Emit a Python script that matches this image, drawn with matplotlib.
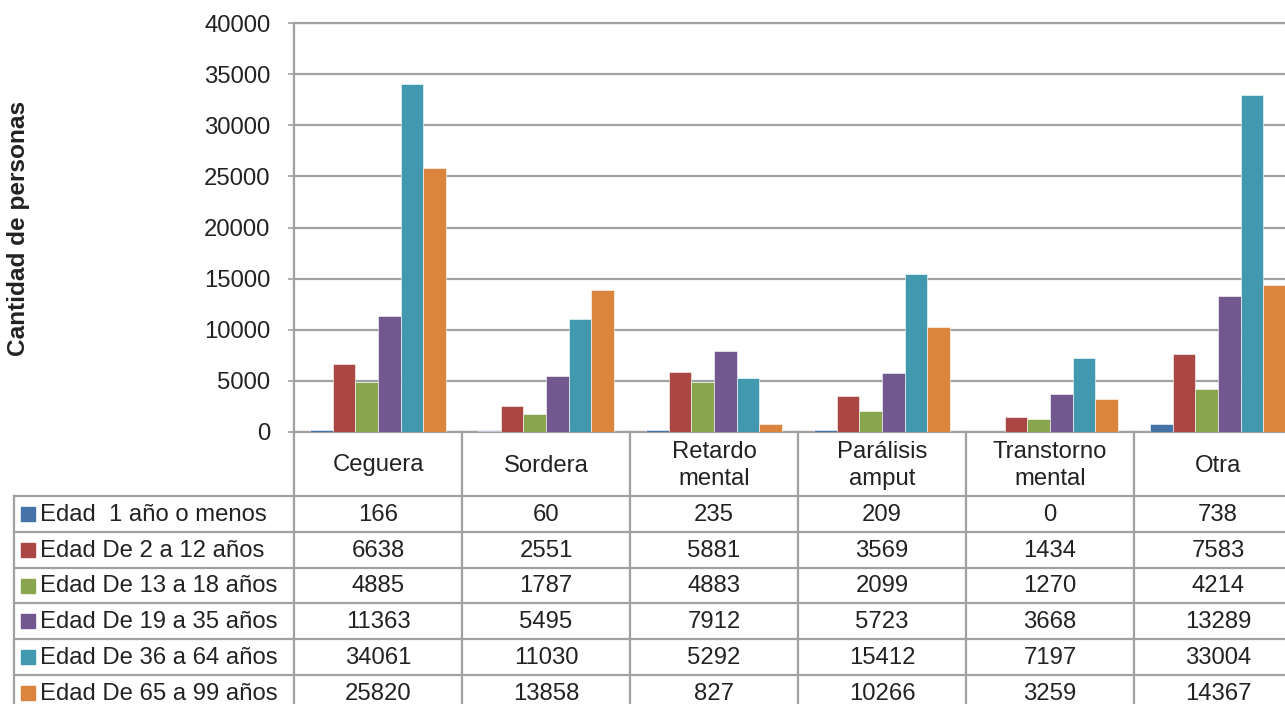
import numpy as np
import matplotlib
matplotlib.use("Agg")
import matplotlib.pyplot as plt

plt.rcParams['font.family'] = ['Liberation Sans', 'DejaVu Sans']

# data
categories = ["Ceguera", "Sordera", "Retardo\nmental", "Parálisis\namput", "Transtorno\nmental", "Otra"]
series_names = ["Edad  1 año o menos", "Edad De 2 a 12 años", "Edad De 13 a 18 años",
                "Edad De 19 a 35 años", "Edad De 36 a 64 años", "Edad De 65 a 99 años"]
edad_0_1 = [166, 60, 235, 209, 0, 738]
edad_2_12 = [6638, 2551, 5881, 3569, 1434, 7583]
edad_13_18 = [4885, 1787, 4883, 2099, 1270, 4214]
edad_19_35 = [11363, 5495, 7912, 5723, 3668, 13289]
edad_36_64 = [34061, 11030, 5292, 15412, 7197, 33004]
edad_65_99 = [25820, 13858, 827, 10266, 3259, 14367]
series_values = [edad_0_1, edad_2_12, edad_13_18, edad_19_35, edad_36_64, edad_65_99]
colors = ["#4572A7", "#AA4643", "#89A54E", "#71588F", "#4198AF", "#DB843D"]
yticks = [0, 5000, 10000, 15000, 20000, 25000, 30000, 35000, 40000]

W, H = 1285, 704
grid_c = "#A0A0A0"
txt_c = "#222222"
fs = 17.2

fig = plt.figure(figsize=(W / 100, H / 100), dpi=100)

# plot area (extends past the right edge like the source crop)
x0, col_w, y_base, y_top = 294, 168, 432, 23
ax = fig.add_axes([x0 / W, (H - y_base) / H, 6 * col_w / W, (y_base - y_top) / H])
n = len(series_values)
bw = 0.134
x = np.arange(len(categories))
for i, (vals, c) in enumerate(zip(series_values, colors)):
    ax.bar(x + (i - (n - 1) / 2) * bw, vals, bw, color=c, edgecolor="white", linewidth=0.4, zorder=3)
ax.set_xlim(-0.5, len(categories) - 0.5)
ax.set_ylim(0, 40000)
ax.set_yticks(yticks)
ax.set_yticklabels([str(v) for v in yticks], fontsize=fs, color=txt_c)
ax.set_xticks([])
ax.yaxis.grid(True, color=grid_c, linewidth=1.6, zorder=0)
ax.tick_params(axis="y", length=4, width=1.2, color=grid_c, pad=13)
for s in ["left", "top", "bottom", "right"]:
    ax.spines[s].set_color(grid_c)
    ax.spines[s].set_linewidth(1.6)

fig.text(19 / W, (H - 228) / H, "Cantidad de personas", rotation=90, fontsize=17.6,
         fontweight="bold", color=txt_c, ha="center", va="center")

# data table below the plot
tab = fig.add_axes([0, 0, 1, 1])
tab.set_xlim(0, W)
tab.set_ylim(H, 0)
tab.axis("off")
x_left, x_right = 14, x0 + 6 * col_w
row_top, row_h = 496, 35.8
row_y = [row_top + k * row_h for k in range(len(series_names) + 1)]
for y in row_y:
    tab.plot([x_left, x_right], [y, y], color=grid_c, lw=1.6, zorder=1)
for k in range(len(categories) + 1):
    tab.plot([x0 + k * col_w] * 2, [y_base, row_y[-1]], color=grid_c, lw=1.6, zorder=1)
tab.plot([x_left, x_left], [row_top, row_y[-1]], color=grid_c, lw=1.6, zorder=1)

for k, cat in enumerate(categories):
    tab.text(x0 + (k + 0.5) * col_w, (y_base + row_top) / 2 + 1.5, cat, fontsize=fs, color=txt_c,
             ha="center", va="center", linespacing=1.25)

for r, (name, vals, c) in enumerate(zip(series_names, series_values, colors)):
    yc = row_y[r] + row_h / 2
    tab.add_patch(plt.Rectangle((21, yc - 7), 14, 14, color=c, zorder=2))
    tab.text(40, yc + 1, name, fontsize=fs, color=txt_c, ha="left", va="center")
    for k, v in enumerate(vals):
        tab.text(x0 + (k + 0.5) * col_w, yc + 1, str(v), fontsize=fs, color=txt_c,
                 ha="center", va="center")

fig.savefig("out.png", dpi=100)
